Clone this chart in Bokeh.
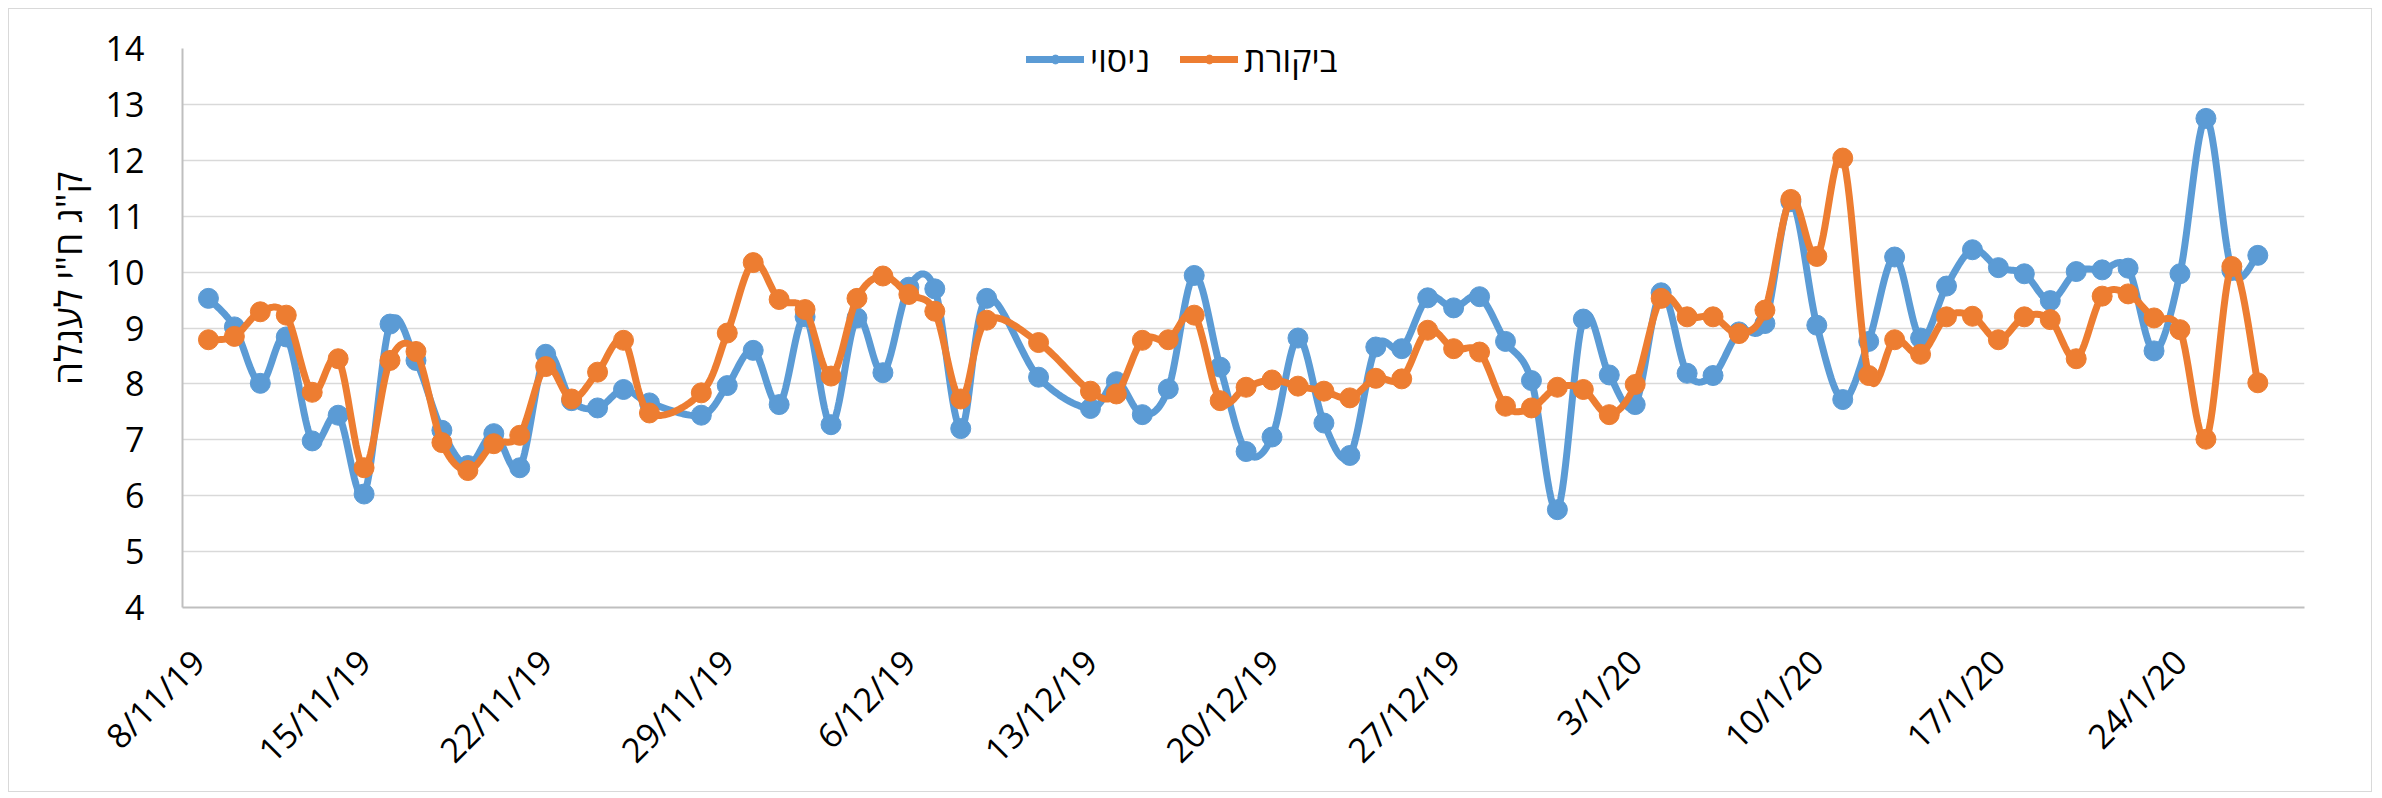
import math
from datetime import datetime
from bokeh.plotting import figure
from bokeh.layouts import row
from bokeh.models import Range1d, FixedTicker, Legend, LegendItem, ColumnDataSource, Label
from bokeh.embed import file_html
from bokeh.resources import INLINE

axis_start = "2019-11-08"
axis_end = "2020-01-29"

dates = [
    "2019-11-09", "2019-11-10", "2019-11-11", "2019-11-12", "2019-11-13", "2019-11-14", "2019-11-15",
    "2019-11-16", "2019-11-17", "2019-11-18", "2019-11-19", "2019-11-20", "2019-11-21", "2019-11-22",
    "2019-11-23", "2019-11-24", "2019-11-25", "2019-11-26", "2019-11-28", "2019-11-29", "2019-11-30",
    "2019-12-01", "2019-12-02", "2019-12-03", "2019-12-04", "2019-12-05", "2019-12-06", "2019-12-07",
    "2019-12-08", "2019-12-09", "2019-12-11", "2019-12-13", "2019-12-14", "2019-12-15", "2019-12-16",
    "2019-12-17", "2019-12-18", "2019-12-19", "2019-12-20", "2019-12-21", "2019-12-22", "2019-12-23",
    "2019-12-24", "2019-12-25", "2019-12-26", "2019-12-27", "2019-12-28", "2019-12-29", "2019-12-30",
    "2019-12-31", "2020-01-01", "2020-01-02", "2020-01-03", "2020-01-04", "2020-01-05", "2020-01-06",
    "2020-01-07", "2020-01-08", "2020-01-09", "2020-01-10", "2020-01-11", "2020-01-12", "2020-01-13",
    "2020-01-14", "2020-01-15", "2020-01-16", "2020-01-17", "2020-01-18", "2020-01-19", "2020-01-20",
    "2020-01-21", "2020-01-22", "2020-01-23", "2020-01-24", "2020-01-25", "2020-01-26", "2020-01-27",
]

niso = [
    9.53, 9.02, 8.01, 8.84, 6.98, 7.44, 6.03, 9.07, 8.42, 7.17, 6.54, 7.11, 6.50, 8.53,
    7.70, 7.57, 7.90, 7.66, 7.44, 7.97, 8.60, 7.63, 9.20, 7.27, 9.18, 8.20, 9.73, 9.70,
    7.20, 9.53, 8.12, 7.56, 8.04, 7.45, 7.91, 9.94, 8.30, 6.79, 7.05, 8.82, 7.30, 6.72,
    8.66, 8.63, 9.54, 9.36, 9.56, 8.76, 8.06, 5.75, 9.16, 8.16, 7.63, 9.63, 8.19, 8.15,
    8.93, 9.08, 11.26, 9.05, 7.72, 8.76, 10.27, 8.82, 9.75, 10.40, 10.08, 9.97, 9.49, 10.01,
    10.04, 10.07, 8.59, 9.97, 12.75, 10.03, 10.30,
]

bikoret = [
    8.79, 8.85, 9.29, 9.23, 7.85, 8.45, 6.50, 8.42, 8.58, 6.95, 6.45, 6.93, 7.08, 8.31,
    7.73, 8.21, 8.78, 7.48, 7.84, 8.91, 10.17, 9.51, 9.33, 8.14, 9.53, 9.93, 9.60, 9.30,
    7.73, 9.14, 8.74, 7.87, 7.82, 8.78, 8.79, 9.23, 7.70, 7.94, 8.07, 7.96, 7.87, 7.75,
    8.10, 8.09, 8.96, 8.63, 8.57, 7.60, 7.57, 7.94, 7.90, 7.45, 7.99, 9.53, 9.20, 9.20,
    8.90, 9.32, 11.30, 10.28, 12.04, 8.15, 8.79, 8.53, 9.20, 9.21, 8.79, 9.20, 9.15, 8.45,
    9.57, 9.61, 9.18, 8.97, 7.01, 10.10, 8.02,
]

tick_dates = [
    "2019-11-08", "2019-11-15", "2019-11-22", "2019-11-29", "2019-12-06", "2019-12-13",
    "2019-12-20", "2019-12-27", "2020-01-03", "2020-01-10", "2020-01-17", "2020-01-24",
]
tick_labels = [
    "8/11/19", "15/11/19", "22/11/19", "29/11/19", "6/12/19", "13/12/19",
    "20/12/19", "27/12/19", "3/1/20", "10/1/20", "17/1/20", "24/1/20",
]
y_ticks = [4, 5, 6, 7, 8, 9, 10, 11, 12, 13, 14]

series_names = ["ניסוי", "ביקורת"]
y_label = 'ק"ג ח"י לעגלה'

BLUE = "#5B9BD5"
ORANGE = "#ED7D31"
FONT = "Open Sans"

TOTAL_W, FIG_H = 2362, 782
SIDE_W = 86
BORDER_L, BORDER_R, BORDER_T, BORDER_B = 173, 67, 39, 184

t0 = datetime.strptime(axis_start, "%Y-%m-%d")


def day_index(s):
    return (datetime.strptime(s, "%Y-%m-%d") - t0).days


xs = [day_index(d) for d in dates]
ticks = [day_index(d) for d in tick_dates]
x_end = day_index(axis_end) - 0.2


def smooth(x, y, n=16):
    pts = list(zip(x, y))
    ox, oy = [pts[0][0]], [pts[0][1]]
    for i in range(len(pts) - 1):
        p0 = pts[i - 1] if i > 0 else pts[i]
        p1 = pts[i]
        p2 = pts[i + 1]
        p3 = pts[i + 2] if i + 2 < len(pts) else pts[i + 1]
        c1 = (p1[0] + (p2[0] - p0[0]) / 6.0, p1[1] + (p2[1] - p0[1]) / 6.0)
        c2 = (p2[0] - (p3[0] - p1[0]) / 6.0, p2[1] - (p3[1] - p1[1]) / 6.0)
        for k in range(1, n + 1):
            t = k / n
            a = (1 - t) ** 3
            b = 3 * (1 - t) ** 2 * t
            c = 3 * (1 - t) * t ** 2
            d = t ** 3
            ox.append(a * p1[0] + b * c1[0] + c * c2[0] + d * p2[0])
            oy.append(a * p1[1] + b * c1[1] + c * c2[1] + d * p2[1])
    return ox, oy


# narrow side panel holding the vertical axis title
side = figure(
    width=SIDE_W, height=FIG_H,
    x_range=Range1d(0, SIDE_W), y_range=Range1d(0, FIG_H),
    output_backend="svg", toolbar_location=None,
    x_axis_location=None, y_axis_location=None, min_border=0,
)
side.outline_line_color = None
side.grid.visible = False
side.background_fill_color = "white"
side.border_fill_color = "white"
side.add_layout(Label(
    x=SIDE_W - 28, y=FIG_H - (BORDER_T + (FIG_H - BORDER_T - BORDER_B) / 2) - 3,
    text=y_label, angle=math.pi / 2, text_align="center", text_baseline="middle",
    text_font=FONT, text_font_size="37px", text_color="#000000",
))

p = figure(
    width=TOTAL_W - SIDE_W, height=FIG_H,
    x_range=Range1d(0, x_end), y_range=Range1d(4, 14),
    output_backend="svg", toolbar_location=None,
    min_border_left=BORDER_L - SIDE_W, min_border_right=BORDER_R,
    min_border_top=BORDER_T, min_border_bottom=BORDER_B,
)
p.outline_line_color = None
p.background_fill_color = "white"
p.border_fill_color = "white"

p.xgrid.grid_line_color = None
p.ygrid.grid_line_color = "#d9d9d9"
p.ygrid.grid_line_width = 1.5

p.yaxis.ticker = FixedTicker(ticks=y_ticks)
p.xaxis.ticker = FixedTicker(ticks=ticks)
p.xaxis.major_label_overrides = {t: lab for t, lab in zip(ticks, tick_labels)}
p.xaxis.major_label_orientation = math.pi / 4

for ax in (p.xaxis[0], p.yaxis[0]):
    ax.axis_line_color = "#bfbfbf"
    ax.axis_line_width = 2
    ax.major_tick_line_color = None
    ax.minor_tick_line_color = None
    ax.major_tick_out = 0
    ax.major_tick_in = 0
    ax.major_label_text_font = FONT
    ax.major_label_text_font_size = "34px"
    ax.major_label_text_color = "#000000"

p.yaxis.major_label_standoff = 38
p.xaxis.major_label_standoff = 48

renderers = []
for vals, col in ((niso, BLUE), (bikoret, ORANGE)):
    sx, sy = smooth(xs, vals)
    ln = p.line(sx, sy, line_color=col, line_width=7, line_join="round", line_cap="round")
    src = ColumnDataSource(dict(x=xs, y=vals))
    sc = p.scatter("x", "y", source=src, size=20, marker="circle",
                   fill_color=col, line_color=col, line_width=1)
    renderers.append((ln, sc))

legend = Legend(
    items=[LegendItem(label=series_names[0], renderers=list(renderers[0])),
           LegendItem(label=series_names[1], renderers=list(renderers[1]))],
    orientation="horizontal",
    location=(844, 525),
    padding=0, margin=0, spacing=30, label_standoff=6,
    glyph_width=58, glyph_height=22,
    border_line_color=None, background_fill_alpha=0,
    label_text_font=FONT, label_text_font_size="34px", label_text_color="#000000",
)
p.add_layout(legend)

layout = row(side, p, spacing=0, styles={"border": "1px solid #d9d9d9", "margin": "8px"})

open("out.html", "w").write(file_html(layout, INLINE))
